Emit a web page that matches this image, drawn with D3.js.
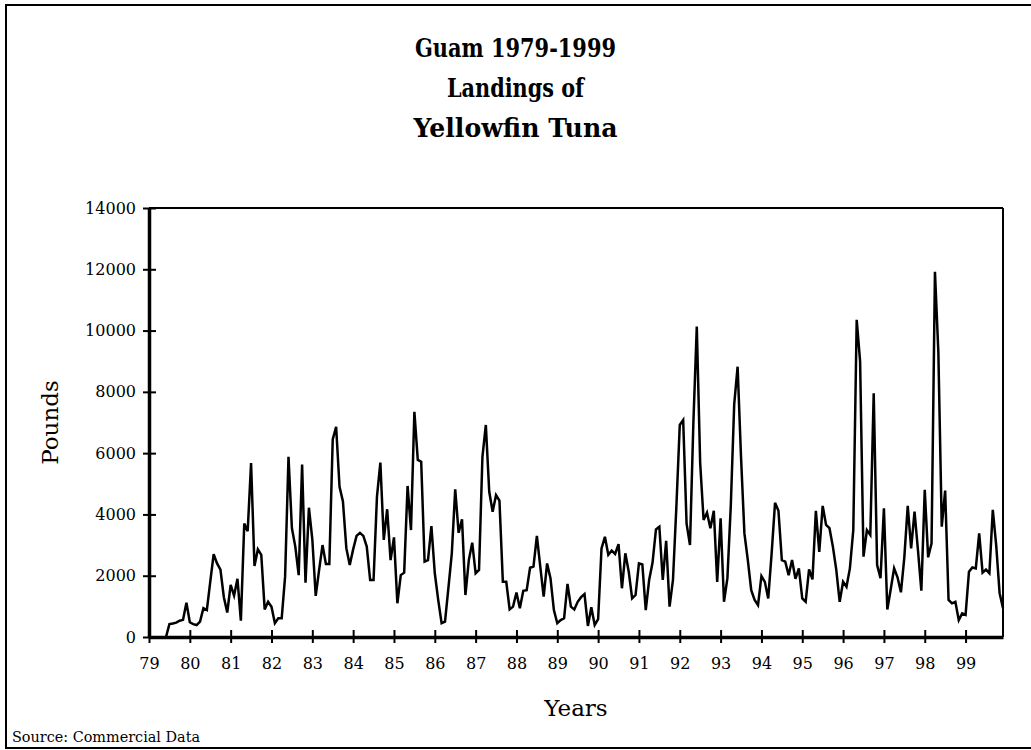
<!DOCTYPE html>
<html>
<head>
<meta charset="utf-8">
<script src="https://cdn.jsdelivr.net/npm/d3@7/dist/d3.min.js"></script>
<style>
  html, body { margin: 0; padding: 0; background: #fff; }
  svg { display: block; }
</style>
</head>
<body>
<svg id="chart" width="1031" height="750"></svg>
<script>
// ---- Data (monthly landings, pounds) ----
const titleLines = ["Guam 1979-1999", "Landings of", "Yellowfin Tuna"];
const yearLabels = ["79","80","81","82","83","84","85","86","87","88","89","90","91","92","93","94","95","96","97","98","99"];
const yTicks = [0, 2000, 4000, 6000, 8000, 10000, 12000, 14000];

const y1979 = [null,null,null,null,null,0,420,440,470,530,560,1120];
const y1980 = [480,420,390,500,940,880,1800,2700,2400,2200,1300,800];
const y1981 = [1700,1350,1900,530,3700,3450,5680,2320,2860,2680,900,1150];
const y1982 = [990,450,610,610,1970,5880,3550,2950,2020,5630,1770,4220];
const y1983 = [3190,1340,2190,3000,2380,2380,6450,6860,4900,4420,2900,2350];
const y1984 = [2860,3300,3400,3300,2950,1860,1860,4580,5690,3170,4170,2510];
const y1985 = [3250,1100,2020,2100,4930,3490,7350,5780,5720,2460,2510,3620];
const y1986 = [2080,1210,450,500,1600,2730,4820,3400,3840,1370,2510,3080];
const y1987 = [2080,2190,5880,6920,4740,4090,4630,4450,1800,1800,900,990];
const y1988 = [1450,940,1510,1530,2260,2300,3300,2300,1320,2400,1920,880];
const y1989 = [450,550,610,1730,990,900,1150,1300,1400,360,970,390];
const y1990 = [580,2890,3270,2680,2820,2710,3030,1590,2730,2130,1260,1370];
const y1991 = [2400,2370,880,1860,2430,3510,3600,1860,3140,990,1860,4250];
const y1992 = [6920,7080,3700,3000,7000,10130,5670,3820,4060,3550,4120,1800];
const y1993 = [3870,1150,1920,4300,7600,8820,5880,3380,2510,1530,1210,1040];
const y1994 = [1990,1800,1260,2730,4380,4120,2510,2460,2020,2510,1900,2240];
const y1995 = [1260,1150,2210,1880,4120,2780,4280,3660,3550,2950,2190,1150];
const y1996 = [1800,1640,2240,3490,10350,9000,2620,3490,3330,7950,2350,1920];
const y1997 = [4200,900,1560,2240,1950,1460,2600,4280,2890,4090,2840,1510];
const y1998 = [4800,2600,3060,11920,9300,3600,4780,1210,1100,1150,550,770];
const y1999 = [720,2130,2270,2240,3380,2100,2200,2080,4150,3000,1430,940];

const yearly = [y1979,y1980,y1981,y1982,y1983,y1984,y1985,y1986,y1987,y1988,y1989,
                y1990,y1991,y1992,y1993,y1994,y1995,y1996,y1997,y1998,y1999];
const monthly = [];
yearly.forEach(arr => arr.forEach(v => monthly.push({m: monthly.length, v: v})));

// ---- Layout ----
const svg = d3.select("#chart");
const serif = "'DejaVu Serif', 'Liberation Serif', serif";
const plotL = 149, plotR = 1003, plotT = 208, plotB = 637;
const titleWidths = [201, 137, 204];

const x = d3.scaleLinear().domain([0, monthly.length - 1]).range([plotL, plotR]);
const y = d3.scaleLinear().domain([0, 14000]).range([plotB, plotT]);

// Outer frame
svg.append("rect")
  .attr("x", 6).attr("y", 5).attr("width", 1040).attr("height", 743)
  .attr("fill", "none").attr("stroke", "#000").attr("stroke-width", 2);

// Title
svg.append("g").selectAll("text").data(titleLines).enter().append("text")
  .attr("x", 515.5)
  .attr("y", (d, i) => 57 + i * 40)
  .attr("text-anchor", "middle")
  .attr("font-family", serif)
  .attr("font-weight", "bold")
  .attr("font-size", 26)
  .attr("textLength", (d, i) => titleWidths[i])
  .attr("lengthAdjust", "spacingAndGlyphs")
  .text(d => d);

// Plot frame: top and right lines
svg.append("line").attr("x1", plotL).attr("x2", plotR).attr("y1", plotT).attr("y2", plotT)
  .attr("stroke", "#000").attr("stroke-width", 2);
svg.append("line").attr("x1", plotR).attr("x2", plotR).attr("y1", plotT).attr("y2", plotB)
  .attr("stroke", "#000").attr("stroke-width", 2);

// Y axis
const yAxis = d3.axisLeft(y).tickValues(yTicks).tickSize(0).tickPadding(13)
  .tickFormat(d3.format("d"));
const gy = svg.append("g").attr("transform", `translate(${plotL},0)`).call(yAxis);
gy.select(".domain").attr("stroke-width", 3.5);
gy.selectAll(".tick text").attr("font-family", serif).attr("font-size", 16).attr("fill", "#000");
gy.selectAll(".tick").append("line").attr("x1", -6).attr("x2", 7).attr("stroke", "#000").attr("stroke-width", 2);

// X axis
const xTickVals = yearLabels.map((d, i) => i * 12);
const xAxis = d3.axisBottom(x).tickValues(xTickVals).tickSize(0).tickPadding(21)
  .tickFormat((d, i) => yearLabels[i]);
const gx = svg.append("g").attr("transform", `translate(0,${plotB})`).call(xAxis);
gx.select(".domain").attr("stroke-width", 3.5);
gx.selectAll(".tick text").attr("font-family", serif).attr("font-size", 16).attr("fill", "#000");
gx.selectAll(".tick").append("line").attr("y1", -7).attr("y2", 6).attr("stroke", "#000").attr("stroke-width", 2);

// Axis titles
svg.append("text").attr("x", (plotL + plotR) / 2).attr("y", 716)
  .attr("text-anchor", "middle").attr("font-family", serif).attr("font-size", 23)
  .text("Years");
svg.append("text")
  .attr("transform", `translate(58,${(plotT + plotB) / 2}) rotate(-90)`)
  .attr("text-anchor", "middle").attr("font-family", serif).attr("font-size", 23)
  .text("Pounds");

// Source note
svg.append("text").attr("x", 12).attr("y", 742)
  .attr("font-family", serif).attr("font-size", 14)
  .attr("textLength", 188).attr("lengthAdjust", "spacingAndGlyphs")
  .text("Source: Commercial Data");

// Data line
const line = d3.line()
  .defined(d => d.v !== null)
  .x(d => x(d.m))
  .y(d => y(d.v));
svg.append("path").datum(monthly)
  .attr("d", line)
  .attr("fill", "none")
  .attr("stroke", "#000")
  .attr("stroke-width", 2.5)
  .attr("stroke-linejoin", "miter");
</script>
</body>
</html>
